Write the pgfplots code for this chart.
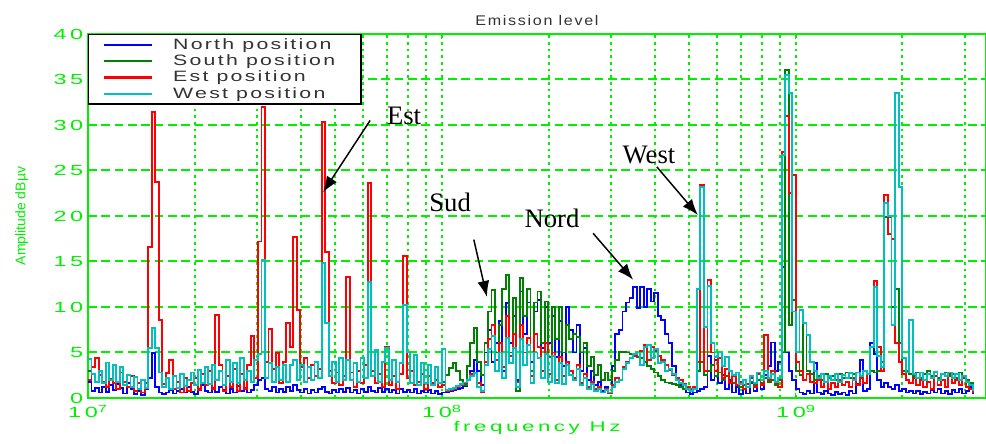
\documentclass[border=0pt]{standalone}
\usepackage{fontspec}
\setmainfont{Liberation Sans}
\newfontfamily\tickfont[FakeStretch=1.6,LetterSpace=25]{Liberation Sans}
\newfontfamily\legfont[FakeStretch=1.42,LetterSpace=15]{Liberation Sans}
\newfontfamily\titlefont[FakeStretch=1.15,LetterSpace=12]{Liberation Sans}
\newfontfamily\annfont{Liberation Serif}
\usepackage{pgfplots}
\usepackage{pgfplotstable}
\pgfplotsset{compat=1.18}
\usetikzlibrary{arrows.meta}
\definecolor{mgreen}{RGB}{0,240,0}
\definecolor{nblue}{RGB}{0,0,255}
\definecolor{sgreen}{RGB}{0,128,0}
\definecolor{ered}{RGB}{255,0,0}
\definecolor{wcyan}{RGB}{0,191,191}
% x = log10(frequency in Hz)
\pgfplotstableread{
x N S E W
7.00 1.8 3.0 2.0 4.3
7.01 0.8 2.6 3.4 2.6
7.02 1.1 1.8 4.4 1.8
7.03 0.6 3.0 2.5 3.0
7.04 1.2 1.6 1.8 1.6
7.05 0.7 3.9 1.2 3.9
7.06 1.4 2.0 2.1 2.0
7.07 0.9 3.6 1.6 3.6
7.08 1.5 1.8 1.0 1.8
7.09 1.1 3.4 2.8 3.4
7.10 0.5 1.4 1.8 1.4
7.11 1.6 2.5 1.2 2.5
7.12 1.0 1.2 2.4 1.2
7.13 0.4 2.3 0.8 2.3
7.14 0.8 1.0 1.6 1.0
7.15 0.3 2.0 0.6 2.0
7.16 1.0 1.1 1.6 1.1
7.17 2.2 5.5 16.6 5.5
7.18 4.9 7.7 31.4 7.7
7.19 1.2 5.5 23.7 5.5
7.20 0.6 2.8 8.6 2.8
7.21 0.4 1.2 1.5 1.2
7.22 0.6 2.2 2.7 2.2
7.23 0.9 1.0 4.2 1.0
7.24 0.5 2.4 1.0 2.4
7.25 0.8 1.1 1.8 1.1
7.26 1.0 2.6 0.6 2.6
7.27 0.6 1.3 2.2 1.3
7.28 1.2 2.0 0.8 2.0
7.29 0.7 2.8 1.6 2.8
7.30 0.4 1.4 2.2 1.4
7.31 1.0 3.1 0.9 3.1
7.32 1.4 1.6 2.6 1.6
7.33 0.8 3.4 1.4 3.4
7.34 0.6 1.5 3.0 1.5
7.35 1.1 3.6 1.0 3.6
7.36 0.7 2.0 9.1 2.0
7.37 1.2 3.0 3.6 3.0
7.38 0.9 1.4 0.8 1.4
7.39 0.5 4.2 2.4 4.2
7.40 1.0 1.8 1.2 1.8
7.41 0.6 3.8 3.2 3.8
7.42 1.3 1.6 0.8 1.6
7.43 0.8 4.4 2.6 4.4
7.44 1.1 2.0 1.0 2.0
7.45 0.6 3.0 3.6 3.0
7.46 0.9 1.8 6.8 1.8
7.47 1.4 4.2 2.2 4.2
7.48 2.0 4.8 17.2 4.8
7.49 2.2 15.2 32.0 15.2
7.50 1.0 2.2 4.0 2.2
7.51 0.8 3.8 7.6 3.8
7.52 1.2 1.8 3.2 1.8
7.53 0.6 3.4 4.9 3.4
7.54 1.0 2.0 1.6 2.0
7.55 0.7 3.6 4.0 3.6
7.56 1.2 1.8 8.2 1.8
7.57 0.8 3.6 5.6 3.6
7.58 1.4 4.2 17.7 4.2
7.59 0.9 2.0 9.7 2.0
7.60 0.6 3.6 3.4 3.6
7.61 1.0 1.8 4.4 1.8
7.62 0.5 3.4 2.2 3.4
7.63 0.9 2.0 3.6 2.0
7.64 0.6 4.0 2.4 4.0
7.65 1.0 2.2 3.2 2.2
7.66 1.2 14.8 30.3 14.8
7.67 0.7 8.2 16.0 8.2
7.68 0.5 2.4 3.0 2.4
7.69 0.9 4.0 1.6 4.0
7.70 0.6 1.8 2.8 1.8
7.71 1.0 4.4 1.4 4.4
7.72 0.7 2.0 2.4 2.0
7.73 1.1 4.2 13.3 4.2
7.74 0.6 2.0 2.8 2.0
7.75 0.9 3.8 1.2 3.8
7.76 0.5 1.8 3.0 1.8
7.77 1.0 4.4 1.6 4.4
7.78 0.7 2.2 3.6 2.2
7.79 1.2 12.7 23.6 12.7
7.80 0.8 2.4 3.0 2.4
7.81 0.6 5.3 1.6 5.3
7.82 1.1 1.8 2.6 1.8
7.83 0.7 4.0 1.2 4.0
7.84 1.0 5.5 5.6 5.5
7.85 0.6 2.0 1.4 2.0
7.86 0.9 4.2 2.4 4.2
7.87 0.5 1.8 1.0 1.8
7.88 1.0 3.8 2.6 3.8
7.89 0.7 10.2 15.6 10.2
7.90 0.9 5.0 2.2 5.0
7.91 0.6 1.6 3.0 1.6
7.92 1.0 4.7 1.4 4.7
7.93 0.5 1.4 1.8 1.4
7.94 0.8 3.8 2.6 3.8
7.95 0.6 1.6 1.0 1.6
7.96 0.9 3.6 2.4 3.6
7.97 0.5 1.4 1.6 1.4
7.98 0.8 3.4 2.0 3.4
7.99 0.4 1.6 1.2 1.6
8.00 0.6 1.8 1.4 5.4
8.01 0.7 2.5 0.8 0.9
8.02 0.8 3.3 0.9 1.0
8.03 0.9 3.8 1.0 1.1
8.04 1.0 3.0 1.2 1.3
8.05 1.1 2.0 1.4 1.5
8.06 1.3 1.4 1.6 1.7
8.07 2.0 3.5 2.0 2.0
8.08 3.0 6.0 2.6 2.4
8.09 4.2 7.7 2.8 2.7
8.10 3.0 4.0 1.6 1.2
8.11 1.4 2.5 0.6 0.8
8.12 5.0 6.0 4.0 3.6
8.13 7.5 9.5 6.5 5.4
8.14 4.0 11.9 8.0 6.8
8.15 6.0 5.0 4.2 3.0
8.16 8.5 8.0 6.0 5.0
8.17 3.0 12.0 3.4 2.2
8.18 10.4 13.5 9.0 6.6
8.19 6.0 5.0 4.6 3.8
8.20 9.0 11.0 7.0 5.5
8.21 2.0 0.8 1.8 1.2
8.22 11.7 13.2 8.0 6.5
8.23 7.0 9.0 5.0 3.6
8.24 10.5 12.0 6.6 5.8
8.25 4.0 3.0 2.4 1.6
8.26 9.5 10.5 7.0 5.0
8.27 10.8 11.7 5.6 4.4
8.28 5.5 6.0 3.0 2.2
8.29 10.0 10.6 6.0 4.8
8.30 6.0 4.5 2.6 1.8
8.31 9.0 10.0 5.0 4.6
8.32 4.5 6.5 2.0 1.6
8.33 8.5 10.0 4.5 3.8
8.34 3.5 5.0 2.4 1.5
8.35 10.0 8.0 4.0 3.6
8.36 7.5 6.5 3.0 2.5
8.37 5.0 7.0 2.2 2.0
8.38 8.0 6.7 3.6 3.2
8.39 3.0 5.0 1.6 1.4
8.40 5.5 6.0 2.6 2.2
8.41 2.0 3.5 1.2 1.0
8.42 3.0 4.5 1.8 1.5
8.43 1.4 2.5 1.0 0.8
8.44 1.8 3.6 1.2 1.0
8.45 0.8 2.0 0.6 0.6
8.46 1.2 2.8 1.0 0.9
8.47 0.6 2.0 0.5 0.6
8.48 3.5 3.0 1.4 1.2
8.49 7.0 4.2 2.2 1.8
8.50 7.5 5.1 2.0 2.0
8.51 9.5 5.1 3.4 3.2
8.52 10.5 5.0 4.0 3.8
8.53 11.0 4.8 4.4 4.4
8.54 12.2 4.6 4.6 4.8
8.55 9.9 4.5 5.0 5.0
8.56 12.2 4.4 5.2 3.6
8.57 10.0 4.0 5.8 5.6
8.58 12.0 3.5 4.2 5.8
8.59 10.6 3.2 5.6 4.4
8.60 11.5 2.8 5.2 5.4
8.61 9.0 2.4 4.6 3.8
8.62 8.6 2.0 4.2 4.0
8.63 7.0 1.7 3.6 3.0
8.64 6.0 1.6 3.1 3.2
8.65 3.5 1.5 2.5 2.6
8.66 2.0 1.4 2.2 2.0
8.67 1.4 1.2 2.0 1.6
8.68 1.0 1.0 1.5 1.4
8.69 0.6 1.0 1.2 1.0
8.70 0.4 0.8 1.0 0.8
8.71 0.6 1.0 1.2 1.0
8.72 0.8 3.0 4.0 12.0
8.73 1.0 4.0 23.4 23.2
8.74 1.2 2.5 3.0 7.8
8.75 4.6 3.0 13.0 12.3
8.76 2.0 3.6 5.0 6.0
8.77 4.2 2.4 3.0 4.5
8.78 1.6 2.8 4.4 5.0
8.79 2.5 2.0 2.2 3.5
8.80 1.0 2.4 3.2 4.5
8.81 2.0 1.8 1.6 3.0
8.82 0.6 1.6 2.4 2.5
8.83 1.2 1.4 1.4 2.8
8.84 0.4 1.2 1.8 1.5
8.85 1.0 1.4 1.0 2.0
8.86 0.5 1.2 1.5 1.2
8.87 1.6 1.8 2.2 2.4
8.88 0.8 1.4 1.2 1.6
8.89 2.0 2.0 2.6 2.8
8.90 1.0 1.6 1.4 2.0
8.91 2.5 2.2 6.9 3.0
8.92 3.5 1.8 2.0 2.2
8.93 6.1 2.0 3.0 2.6
8.94 3.0 1.4 1.6 1.8
8.95 4.0 2.0 1.2 2.2
8.96 14.4 5.0 27.0 26.7
8.97 5.0 36.0 31.0 35.5
8.98 3.0 8.0 22.5 33.5
8.99 2.0 10.8 24.5 9.5
9.00 1.0 3.0 4.0 5.0
9.01 0.6 2.5 3.0 9.7
9.02 0.4 8.2 2.0 8.2
9.03 0.8 3.0 2.6 6.9
9.04 0.5 2.6 1.8 4.0
9.05 3.8 2.0 1.6 3.0
9.06 0.6 2.4 2.0 2.2
9.07 0.4 2.0 1.2 2.6
9.08 0.8 2.6 1.8 1.8
9.09 0.5 2.2 1.0 2.4
9.10 0.3 2.4 1.6 2.0
9.11 0.7 2.0 1.2 2.6
9.12 0.4 2.6 2.0 1.8
9.13 0.6 2.2 1.4 2.5
9.14 0.3 2.8 1.8 2.2
9.15 0.8 2.2 1.2 2.7
9.16 0.5 2.6 2.2 2.0
9.17 1.5 2.8 1.4 2.8
9.18 4.2 2.2 2.4 2.4
9.19 0.8 3.0 1.6 3.0
9.20 1.0 2.6 2.6 2.6
9.21 6.0 3.0 5.6 5.6
9.22 4.8 2.8 12.9 12.2
9.23 2.0 3.0 5.6 4.6
9.24 1.2 4.0 3.0 3.4
9.25 1.6 19.9 22.3 21.4
9.26 1.2 19.9 18.0 20.0
9.27 1.0 10.0 17.5 8.0
9.28 1.4 12.0 6.0 33.5
9.29 0.8 6.0 4.0 23.2
9.30 1.0 3.0 2.6 4.4
9.31 0.6 3.0 2.0 2.8
9.32 0.8 2.6 1.6 8.6
9.33 0.5 2.4 2.2 2.6
9.34 0.8 2.8 1.4 2.2
9.35 0.4 2.2 2.0 2.8
9.36 0.7 2.6 1.2 2.0
9.37 0.5 3.0 1.8 2.6
9.38 0.9 2.4 1.0 2.2
9.39 0.6 2.8 2.4 2.9
9.40 1.0 2.2 1.4 2.0
9.41 0.5 2.6 2.0 2.6
9.42 0.8 2.8 1.2 2.4
9.43 0.4 2.4 2.6 2.8
9.44 0.9 2.6 1.6 2.2
9.45 0.6 2.2 2.0 2.6
9.46 1.0 2.8 1.4 2.0
9.47 0.5 2.4 2.2 2.4
9.48 0.8 2.0 1.2 1.8
9.49 1.2 1.6 1.0 1.4
9.50 0.4 0.8 0.6 0.8
}\emission
\begin{document}
\begin{tikzpicture}
\begin{axis}[
  name=ax,
  scale only axis, width=673.5pt, height=273pt,
  xmin=7, xmax=9.537, ymin=0, ymax=40,
  xtick={7,8,9},
  xticklabels={10\textsuperscript{7},10\textsuperscript{8},10\textsuperscript{9}},
  minor xtick={7.30103,7.47712,7.60206,7.69897,7.77815,7.84510,7.90309,7.95424,
    8.30103,8.47712,8.60206,8.69897,8.77815,8.84510,8.90309,8.95424,9.30103,9.47712},
  ytick={0,5,...,40},
  /pgf/number format/assume math mode=true,
  xmajorgrids, xminorgrids, ymajorgrids,
  major x grid style={mgreen, line width=1.5pt, dash pattern=on 2pt off 3pt},
  minor x grid style={mgreen, line width=1.5pt, dash pattern=on 2pt off 3pt},
  major y grid style={mgreen, line width=1.5pt, dash pattern=on 6.5pt off 3.5pt},
  axis line style={mgreen, line width=1.2pt},
  tick style={mgreen, line width=0.8pt},
  major tick length=4pt, minor tick length=2pt,
  tick align=inside,
  ticklabel style={font=\tickfont\fontsize{11}{12}\selectfont, text=mgreen},
  xticklabel style={yshift=-2pt},
  xlabel={frequency Hz},
  xlabel style={font=\tickfont\fontsize{10.5}{12}\selectfont, text=mgreen, yshift=4pt},
  ylabel={Amplitude dBµv},
  ylabel style={font=\fontsize{10.5}{12}\selectfont, text=mgreen, yshift=12pt},
  title={Emission level},
  title style={font=\titlefont\fontsize{10.5}{12}\selectfont, text=black!80, yshift=-3pt},
  legend style={at={(0,1)}, anchor=north west, draw=black, line width=1pt, fill=white,
    font=\legfont\fontsize{11.25}{12.5}\selectfont, text=black!80,
    inner xsep=6pt, inner ysep=1pt, row sep=-1.5pt, cells={anchor=west}},
  legend image code/.code={\draw[#1, line width=1.6pt] (0pt,0pt) -- (36pt,0pt); \path (-4.5pt,0pt) (49.5pt,0pt);},
  legend cell align=left,
]
\addplot[const plot, color=nblue, line width=1.4pt] table[x=x, y=N] {\emission};
\addlegendentry{North position\hspace*{14pt}}
\addplot[const plot, color=sgreen, line width=1.4pt] table[x=x, y=S] {\emission};
\addlegendentry{South position}
\addplot[const plot, color=ered, line width=1.4pt] table[x=x, y=E] {\emission};
\addlegendentry{Est position}
\addplot[const plot, color=wcyan, line width=1.4pt] table[x=x, y=W] {\emission};
\addlegendentry{West position}
% annotations
\node[font=\annfont\fontsize{20}{24}\selectfont] at (axis cs:7.893,31.0) {Est};
\draw[-{Latex[length=12pt,width=9pt]}, line width=1.1pt] (axis cs:7.797,30.5) -- (axis cs:7.664,22.6);
\node[font=\annfont\fontsize{20}{24}\selectfont] at (axis cs:8.023,21.5) {Sud};
\draw[-{Latex[length=12pt,width=9pt]}, line width=1.1pt] (axis cs:8.090,17.4) -- (axis cs:8.127,11.1);
\node[font=\annfont\fontsize{20}{24}\selectfont] at (axis cs:8.311,19.7) {Nord};
\draw[-{Latex[length=12pt,width=9pt]}, line width=1.1pt] (axis cs:8.427,18.1) -- (axis cs:8.540,13.0);
\node[font=\annfont\fontsize{20}{24}\selectfont] at (axis cs:8.585,26.7) {West};
\draw[-{Latex[length=12pt,width=9pt]}, line width=1.1pt] (axis cs:8.607,25.4) -- (axis cs:8.723,20.1);
\end{axis}
\pgfresetboundingbox
\path[use as bounding box] ([shift={(-66pt,-34.5pt)}]ax.south west) rectangle ([shift={(0pt,25.5pt)}]ax.north east);
\end{tikzpicture}
\end{document}
